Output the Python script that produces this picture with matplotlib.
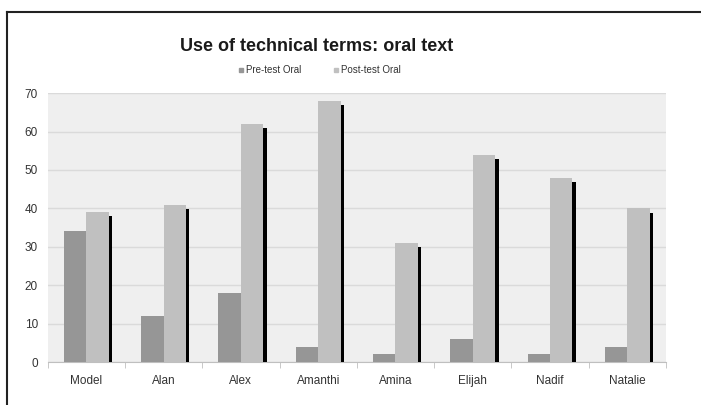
import matplotlib
matplotlib.use("Agg")
from matplotlib import pyplot as plt
from matplotlib import patheffects as pe
from matplotlib.lines import Line2D
import numpy as np

plt.rcParams["font.family"] = ["Liberation Sans", "DejaVu Sans"]

students = ["Model", "Alan", "Alex", "Amanthi", "Amina", "Elijah", "Nadif", "Natalie"]
pre_test = [34, 12, 18, 4, 2, 6, 2, 4]
post_test = [39, 41, 62, 68, 31, 54, 48, 40]

fig = plt.figure(figsize=(7.01, 4.05), dpi=100)
ax = fig.add_axes([0.068, 0.106, 0.882, 0.664])
ax.set_facecolor("#efefef")

x = np.arange(len(students))
w = 0.29
ax.bar(x - w / 2, pre_test, w, color="#969696", zorder=3, label="Pre-test Oral")
post = ax.bar(x + w / 2, post_test, w, color="#c0c0c0", zorder=3, label="Post-test Oral")
# excel-like shadow on the post-test bars
for b in post:
    b.set_path_effects([pe.SimplePatchShadow(offset=(2.5, -3), shadow_rgbFace="black", alpha=1.0),
                        pe.Normal()])

ax.set_xlim(-0.5, len(students) - 0.5)
ax.set_ylim(0, 70)
ax.set_yticks(range(0, 71, 10))
ax.grid(axis="y", color="#dadada", linewidth=1, zorder=0)

ax.set_xticks(x)
ax.set_xticklabels(students)
ax.set_xticks(np.arange(-0.5, len(students)), minor=True)
ax.tick_params(axis="x", which="major", length=0, pad=9, labelsize=8.5, labelcolor="#333333")
ax.tick_params(axis="x", which="minor", length=4, color="#bfbfbf", direction="out")
ax.tick_params(axis="y", length=0, pad=7, labelsize=8.5, labelcolor="#333333")

for s in ["top", "right", "left"]:
    ax.spines[s].set_visible(False)
ax.spines["bottom"].set_color("#bfbfbf")

fig.text(0.452, 0.886, "Use of technical terms: oral text", ha="center", va="center",
         fontsize=13, fontweight="bold", color="#1a1a1a")

handles = [Line2D([], [], marker="s", linestyle="none", markersize=3.5, color="#969696"),
           Line2D([], [], marker="s", linestyle="none", markersize=3.5, color="#c0c0c0")]
fig.legend(handles, ["Pre-test Oral", "Post-test Oral"], loc="center",
           bbox_to_anchor=(0.455, 0.827), ncol=2, frameon=False, fontsize=7,
           handletextpad=0.1, columnspacing=3.2, handlelength=0.8,
           labelcolor="#333333")

# chart border (left and top edges visible)
fig.add_artist(Line2D([0.010, 0.010], [0.0, 0.970], color="#222222", linewidth=1.5))
fig.add_artist(Line2D([0.010, 1.0], [0.970, 0.970], color="#222222", linewidth=1.5))

fig.savefig("out.png", dpi=100)
